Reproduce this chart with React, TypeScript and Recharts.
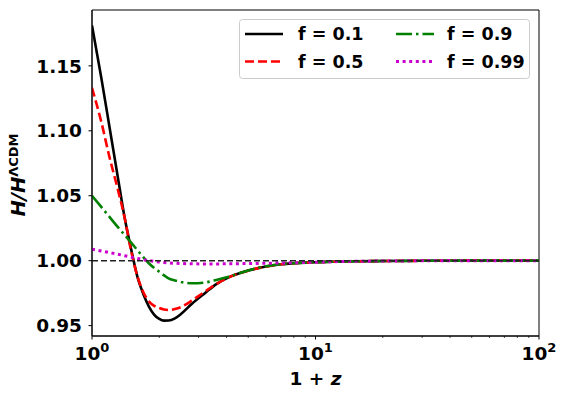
import { LineChart, Line, XAxis, YAxis, ReferenceLine, ReferenceArea, Legend } from 'recharts';

// 1+z sample points (log axis) and H/H_LCDM for each f
const onePlusZ = [1, 1.1, 1.2, 1.3, 1.4, 1.5, 1.6, 1.7, 1.8, 1.9, 2, 2.1, 2.2, 2.35, 2.5, 2.8, 3.2, 3.6, 4, 5, 6, 7, 8, 10, 12, 15, 20, 30, 50, 100];
const f01 = [1.181, 1.141, 1.102, 1.066, 1.033, 1.008, 0.987, 0.974, 0.9645, 0.9583, 0.9551, 0.9538, 0.9539, 0.9556, 0.9589, 0.9668, 0.975, 0.982, 0.9864, 0.9924, 0.9955, 0.9972, 0.998, 0.9988, 0.9992, 0.9995, 0.9997, 0.9999, 1.0, 1.0];
const f05 = [1.133, 1.107, 1.079, 1.056, 1.033, 1.0067, 0.9874, 0.9755, 0.9685, 0.9652, 0.9635, 0.9624, 0.962, 0.9628, 0.9643, 0.9693, 0.9762, 0.982, 0.9863, 0.9923, 0.9955, 0.9972, 0.998, 0.9988, 0.9992, 0.9995, 0.9997, 0.9999, 1.0, 1.0];
const f09 = [1.05, 1.0414, 1.0335, 1.0262, 1.0198, 1.0137, 1.0079, 1.0025, 0.9978, 0.9943, 0.9915, 0.9887, 0.9864, 0.9848, 0.9836, 0.9826, 0.9832, 0.9851, 0.9872, 0.9924, 0.9957, 0.9973, 0.998, 0.9988, 0.9992, 0.9995, 0.9997, 0.9999, 1.0, 1.0];
const f099 = [1.0088, 1.0075, 1.0062, 1.005, 1.0038, 1.0027, 1.0017, 1.0008, 1.0001, 0.9995, 0.999, 0.9986, 0.9983, 0.998, 0.9978, 0.9976, 0.9975, 0.9975, 0.9976, 0.9978, 0.998, 0.9982, 0.9984, 0.9988, 0.9992, 0.9995, 0.9997, 0.9999, 1.0, 1.0];

const xTicks = [1, 2, 3, 4, 5, 6, 7, 8, 9, 10, 20, 30, 40, 50, 60, 70, 80, 90, 100];
const yTicks = [0.95, 1.0, 1.05, 1.1, 1.15];
const yDomain = [0.942, 1.193];

const series = [
  { key: 'f01', label: 'f = 0.1', color: '#000000', dash: undefined, width: 2.6 },
  { key: 'f05', label: 'f = 0.5', color: '#ff0000', dash: '9 4', width: 2.6 },
  { key: 'f09', label: 'f = 0.9', color: '#008000', dash: '16 4 2.5 4', width: 2.6 },
  { key: 'f099', label: 'f = 0.99', color: '#cc00cc', dash: '3 3.6', width: 3 },
];

const data = onePlusZ.map((x, i) => ({ x, f01: f01[i], f05: f05[i], f09: f09[i], f099: f099[i] }));

const FONT = 'DejaVu Sans';

const XTick = (props: any) => {
  const { x, y, payload } = props;
  const v = payload.value;
  const exp = Math.round(Math.log10(v));
  const major = Math.abs(Math.pow(10, exp) - v) < 1e-9;
  return (
    <g>
      <line x1={x} x2={x} y1={y} y2={y + (major ? 3.5 : 2)} stroke="#000" strokeWidth={major ? 1 : 0.7} />
      {major && (
        <text x={x} y={y + 24} textAnchor="middle" fontSize={18.5} fontWeight="bold" fontFamily={FONT} fill="#000">
          10<tspan dy={-8} fontSize={13}>{exp}</tspan>
        </text>
      )}
    </g>
  );
};

const YTick = (props: any) => {
  const { x, y, payload } = props;
  return (
    <g>
      <line x1={x - 3.5} x2={x} y1={y} y2={y} stroke="#000" strokeWidth={1} />
      <text x={x - 10} y={y} dy="0.36em" textAnchor="end" fontSize={18.5} fontWeight="bold" fontFamily={FONT} fill="#000">
        {Number(payload.value).toFixed(2)}
      </text>
    </g>
  );
};

const YLabel = (props: any) => {
  const { viewBox } = props;
  const cx = viewBox.x + 25;
  const cy = viewBox.y + viewBox.height / 2 + 2;
  return (
    <text x={cx} y={cy} transform={`rotate(-90, ${cx}, ${cy})`} textAnchor="middle" fontSize={19.5} fontWeight="bold" fontFamily={FONT} fill="#000">
      <tspan fontStyle="italic">H/H</tspan>
      <tspan dy={-7} fontSize={13}>ΛCDM</tspan>
    </text>
  );
};

const XLabel = (props: any) => {
  const { viewBox } = props;
  const cx = viewBox.x + viewBox.width / 2;
  return (
    <text x={cx} y={385} textAnchor="middle" fontSize={18.5} fontWeight="bold" fontFamily={FONT} fill="#000">
      1 + <tspan fontStyle="italic">z</tspan>
    </text>
  );
};

const LegendBox = () => {
  const pos = [
    { lx: 6, tx: 59, y: 15 },
    { lx: 6, tx: 59, y: 42.5 },
    { lx: 157, tx: 208, y: 15 },
    { lx: 157, tx: 208, y: 42.5 },
  ];
  return (
    <svg width={292} height={61}>
      <rect x={0.5} y={0.5} width={290} height={59} rx={3} fill="#fff" fillOpacity={0.8} stroke="#cccccc" />
      {series.map((s, i) => (
        <g key={s.key}>
          <line x1={pos[i].lx} x2={pos[i].lx + 38} y1={pos[i].y} y2={pos[i].y} stroke={s.color} strokeWidth={s.width} strokeDasharray={s.dash} />
          <text x={pos[i].tx} y={pos[i].y} dy="0.36em" fontSize={17.5} fontWeight="bold" fontFamily={FONT} fill="#000">
            {s.label}
          </text>
        </g>
      ))}
    </svg>
  );
};

export default function App() {
  return (
    <div style={{ position: 'absolute', left: 0, top: 0, background: '#fff' }}>
      <LineChart width={564} height={395} data={data} margin={{ top: 10, right: 25, left: 0, bottom: 0 }}>
        <XAxis
          dataKey="x"
          type="number"
          scale="log"
          domain={[1, 100]}
          ticks={xTicks}
          interval={0}
          allowDataOverflow
          height={59}
          tickSize={0}
          tickMargin={0}
          tickLine={false}
          axisLine={{ stroke: '#000' }}
          tick={<XTick />}
          label={<XLabel />}
        />
        <YAxis
          type="number"
          domain={yDomain}
          ticks={yTicks}
          interval={0}
          allowDataOverflow
          width={92}
          tickSize={0}
          tickMargin={0}
          tickLine={false}
          axisLine={{ stroke: '#000' }}
          tick={<YTick />}
          label={<YLabel />}
        />
        <ReferenceArea x1={1} x2={100} y1={yDomain[0]} y2={yDomain[1]} fill="none" stroke="#000" strokeWidth={1} />
        {series.map((s) => (
          <Line
            key={s.key}
            dataKey={s.key}
            name={s.label}
            type="monotone"
            stroke={s.color}
            strokeWidth={s.width}
            strokeDasharray={s.dash}
            dot={false}
            activeDot={false}
            isAnimationActive={false}
          />
        ))}
        <ReferenceLine y={1} stroke="#222" strokeWidth={1.5} strokeDasharray="6 3" />
        <Legend
          layout="vertical"
          verticalAlign="middle"
          align="center"
          content={<LegendBox />}
          wrapperStyle={{ top: 19, left: 239, width: 292, height: 61 }}
        />
      </LineChart>
    </div>
  );
}
